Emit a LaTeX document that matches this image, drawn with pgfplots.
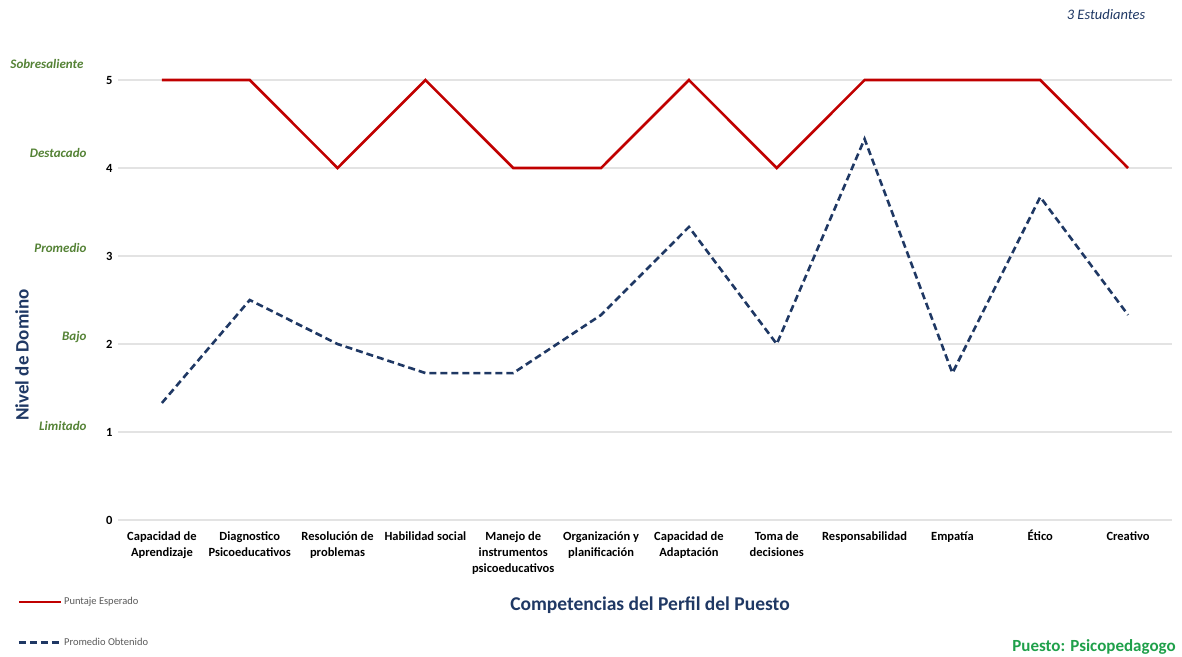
\documentclass[border=0pt]{standalone}
\usepackage{pgfplots}
\pgfplotsset{compat=1.18}
\usepackage{fontspec}
\setmainfont{Carlito}
\definecolor{redl}{HTML}{C00000}
\definecolor{navy}{HTML}{1F3864}
\definecolor{olive}{HTML}{548235}
\definecolor{pgreen}{HTML}{1FA04A}
\definecolor{gridc}{HTML}{E3E3E3}
\begin{document}
\begin{tikzpicture}
\useasboundingbox (0,0) rectangle (1182pt,-656pt);
\begin{axis}[
  at={(118pt,-520pt)}, anchor=south west,
  scale only axis, width=1054pt, height=440pt,
  xmin=-0.5, xmax=11.5, ymin=0, ymax=5,
  clip=false,
  axis line style={draw=none},
  major tick length=0pt,
  ytick={0,1,2,3,4,5},
  ymajorgrids, grid style={gridc, line width=1.2pt},
  xtick={0,...,11},
  xticklabels={{Capacidad de\\Aprendizaje},{Diagnostico\\Psicoeducativos},{Resolución de\\problemas},{Habilidad social},{Manejo de\\instrumentos\\psicoeducativos},{Organización y\\planificación},{Capacidad de\\Adaptación},{Toma de\\decisiones},{Responsabilidad},{Empatía},{\smash{É}tico},{Creativo}},
  xticklabel style={align=center, font=\fontsize{12.5pt}{16pt}\selectfont\bfseries, text=black, anchor=north, yshift=-8pt},
  yticklabel style={font=\fontsize{12.5pt}{13pt}\selectfont\bfseries, text=black, xshift=-2pt},
  /pgf/number format/assume math mode=true,
  legend style={at={(rel axis cs:-0.0955,-0.171)}, anchor=north west, draw=none, fill=none,
    font=\fontsize{10.5pt}{11pt}\selectfont, text=black!65, row sep=28pt, inner sep=0pt},
  legend cell align=left,
  legend image code/.code={\draw[#1] (0pt,0pt) -- (42pt,0pt);},
  every axis legend/.append style={/tikz/every odd column/.append style={column sep=0pt}},
]
\addplot[redl, line width=2.6pt] coordinates {
(0,5) (1,5) (2,4) (3,5) (4,4) (5,4) (6,5) (7,4) (8,5) (9,5) (10,5) (11,4)};
\addlegendentry{Puntaje Esperado}
\addplot[navy, line width=2.6pt, dash pattern=on 7pt off 4pt] coordinates {
(0,1.33) (1,2.5) (2,2.0) (3,1.67) (4,1.67) (5,2.33) (6,3.33) (7,2.0) (8,4.33) (9,1.67) (10,3.67) (11,2.33)};
\addlegendentry{Promedio Obtenido}
\begin{scope}[every node/.style={anchor=east, text=olive, font=\fontsize{13pt}{14pt}\selectfont\bfseries\itshape}]
\node at ([xshift=-31pt,yshift=16pt]axis cs:-0.5,5) {Sobresaliente};
\node at ([xshift=-28pt,yshift=15pt]axis cs:-0.5,4) {Destacado};
\node at ([xshift=-28pt,yshift=8pt]axis cs:-0.5,3) {Promedio};
\node at ([xshift=-28pt,yshift=7pt]axis cs:-0.5,2) {Bajo};
\node at ([xshift=-28pt,yshift=6pt]axis cs:-0.5,1) {Limitado};
\end{scope}
\end{axis}
\node[rotate=90, text=navy, font=\fontsize{19pt}{21pt}\selectfont\bfseries] at (22pt,-355pt) {Nivel de Domino};
\node[text=navy, font=\fontsize{19.5pt}{21pt}\selectfont\bfseries] at (650pt,-605pt) {Competencias del Perfil del Puesto};
\node[text=navy, font=\fontsize{14.5pt}{15pt}\selectfont\itshape] at (1106pt,-15pt) {3 Estudiantes};
\node[text=pgreen, font=\fontsize{17pt}{18pt}\selectfont\bfseries] at (1094pt,-647pt) {Puesto: Psicopedagogo};
\end{tikzpicture}
\end{document}
